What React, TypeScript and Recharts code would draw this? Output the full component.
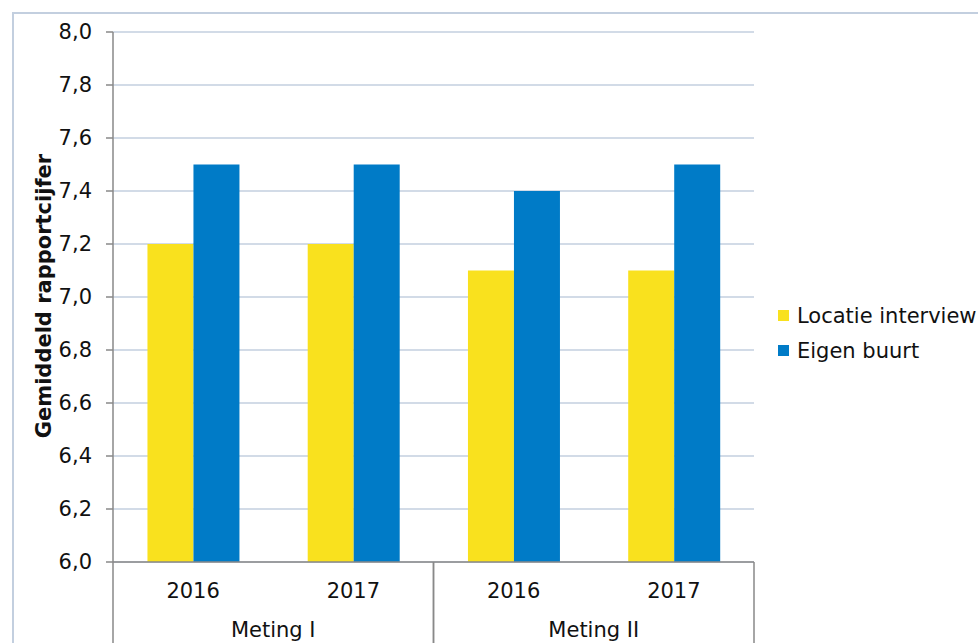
import { BarChart, Bar, XAxis, YAxis, CartesianGrid } from "recharts";

const years = ["2016", "2017", "2016", "2017"];
const groups = ["Meting I", "Meting I", "Meting II", "Meting II"];
const locatieInterview = [7.2, 7.2, 7.1, 7.1];
const eigenBuurt = [7.5, 7.5, 7.4, 7.5];
const yTicks = [6.0, 6.2, 6.4, 6.6, 6.8, 7.0, 7.2, 7.4, 7.6, 7.8, 8.0];

const series = [
  { key: "locatie", name: "Locatie interview", color: "#f9e11e" },
  { key: "buurt", name: "Eigen buurt", color: "#007bc7" },
];

const data = years.map((year, i) => ({
  year,
  group: groups[i],
  locatie: locatieInterview[i],
  buurt: eigenBuurt[i],
}));

const W = 978;
const H = 643;
const LEFT = 113;
const RIGHT = 224;
const TOP = 32;
const AXIS_H = 81;
const FONT = "'DejaVu Sans', Verdana, sans-serif";
const FS = 21;
const band = (W - LEFT - RIGHT) / years.length;

function CategoryTick(props: any) {
  const { x, y, payload } = props;
  const i = payload.index;
  const first = i === 0 || groups[i] !== groups[i - 1];
  const last = i === years.length - 1 || groups[i] !== groups[i + 1];
  return (
    <g>
      <text x={x} y={y + 36} textAnchor="middle" fontSize={FS} fill="#111" fontFamily={FONT}>
        {payload.value}
      </text>
      {first && (
        <>
          <line x1={x - band / 2} x2={x - band / 2} y1={y} y2={y + AXIS_H} stroke="#898989" strokeWidth={1.5} />
          <text x={x + band / 2} y={y + 75} textAnchor="middle" fontSize={FS} fill="#111" fontFamily={FONT}>
            {groups[i]}
          </text>
        </>
      )}
      {last && <line x1={x + band / 2} x2={x + band / 2} y1={y} y2={y + AXIS_H} stroke="#898989" strokeWidth={1.5} />}
    </g>
  );
}

export default function App() {
  return (
    <div style={{ position: "fixed", left: 0, top: 0, width: W, height: H, overflow: "hidden", background: "#fff" }}>
      <div
        style={{
          position: "absolute",
          left: 12,
          top: 12,
          width: W,
          height: H,
          border: "2px solid #c3cfdf",
        }}
      />
      <BarChart
        width={W}
        height={H}
        data={data}
        margin={{ top: TOP, right: RIGHT, bottom: 0, left: 0 }}
        barCategoryGap="21.5%"
        barGap={0}
        style={{ position: "absolute", left: 0, top: 0 }}
      >
        <CartesianGrid vertical={false} stroke="#c3cfdf" strokeWidth={1.5} />
        <XAxis
          dataKey="year"
          height={AXIS_H}
          interval={0}
          tickLine={false}
          tickSize={0}
          tickMargin={0}
          axisLine={{ stroke: "#898989", strokeWidth: 1.5 }}
          tick={<CategoryTick />}
        />
        <YAxis
          width={LEFT}
          domain={[6, 8]}
          ticks={yTicks}
          interval={0}
          tickSize={7}
          tickMargin={14}
          axisLine={{ stroke: "#898989", strokeWidth: 1.5 }}
          tickLine={{ stroke: "#898989", strokeWidth: 1.5 }}
          tick={{ fontSize: FS, fill: "#111", fontFamily: FONT }}
          tickFormatter={(v: number) => v.toFixed(1).replace(".", ",")}
          label={{
            content: () => (
              <text
                x={44}
                y={296}
                transform="rotate(-90 44 296)"
                textAnchor="middle"
                dominantBaseline="central"
                fontSize={FS}
                fontWeight="bold"
                fill="#111"
                fontFamily={FONT}
              >
                Gemiddeld rapportcijfer
              </text>
            ),
          }}
        />
        {series.map((s) => (
          <Bar key={s.key} dataKey={s.key} name={s.name} fill={s.color} isAnimationActive={false} />
        ))}
      </BarChart>
      <div style={{ position: "absolute", left: 778, top: 298, fontFamily: FONT, fontSize: FS, color: "#111" }}>
        {series.map((s) => (
          <div key={s.key} style={{ display: "flex", alignItems: "center", height: 35, whiteSpace: "nowrap" }}>
            <span style={{ display: "inline-block", width: 11, height: 11, background: s.color, marginRight: 8 }} />
            {s.name}
          </div>
        ))}
      </div>
    </div>
  );
}
